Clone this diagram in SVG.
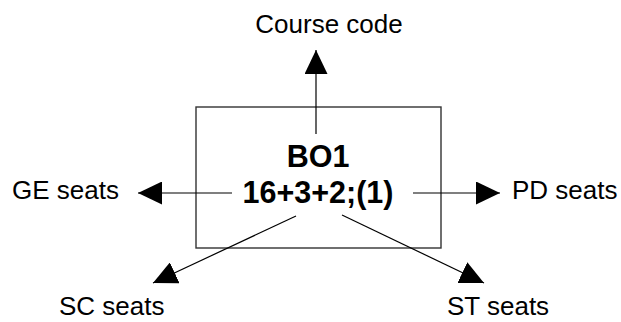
<svg xmlns="http://www.w3.org/2000/svg" width="621" height="322" viewBox="0 0 621 322">
<style>
.lbl{font-family:"Liberation Sans",Arial,sans-serif;font-size:26px;fill:#000}
.big{font-family:"Liberation Sans",Arial,sans-serif;font-size:30.5px;font-weight:bold;fill:#000;text-anchor:middle}
.conn{stroke:#000;stroke-width:1.2;fill:none;marker-end:url(#ah)}
</style>
<defs>
<marker id="ah" markerUnits="userSpaceOnUse" markerWidth="24" markerHeight="23" refX="24" refY="11.5" orient="auto" viewBox="0 0 24 23">
<path d="M0,0 L24,11.5 L0,23 Z" fill="#000"/>
</marker>
</defs>
<rect width="621" height="322" fill="#fff"/>
<g id="box">
<rect x="196" y="107" width="245" height="141" fill="none" stroke="#333" stroke-width="1.4"/>
<text class="big" x="318" y="167">BO1</text>
<text class="big" x="318" y="203">16+3+2;(1)</text>
</g>
<g id="course-code"><text class="lbl" x="329" y="33" text-anchor="middle">Course code</text></g>
<g id="ge-seats"><text class="lbl" x="12" y="199">GE seats</text></g>
<g id="pd-seats"><text class="lbl" x="512" y="199">PD seats</text></g>
<g id="sc-seats"><text class="lbl" x="59" y="315">SC seats</text></g>
<g id="st-seats"><text class="lbl" x="447" y="315">ST seats</text></g>
<g id="connectors">
<line class="conn" x1="316" y1="134" x2="316" y2="50"/>
<line class="conn" x1="232" y1="193" x2="138" y2="193"/>
<line class="conn" x1="413" y1="193" x2="500" y2="193"/>
<line class="conn" x1="296" y1="216" x2="153" y2="283"/>
<line class="conn" x1="342" y1="215" x2="484" y2="283"/>
</g>
</svg>
